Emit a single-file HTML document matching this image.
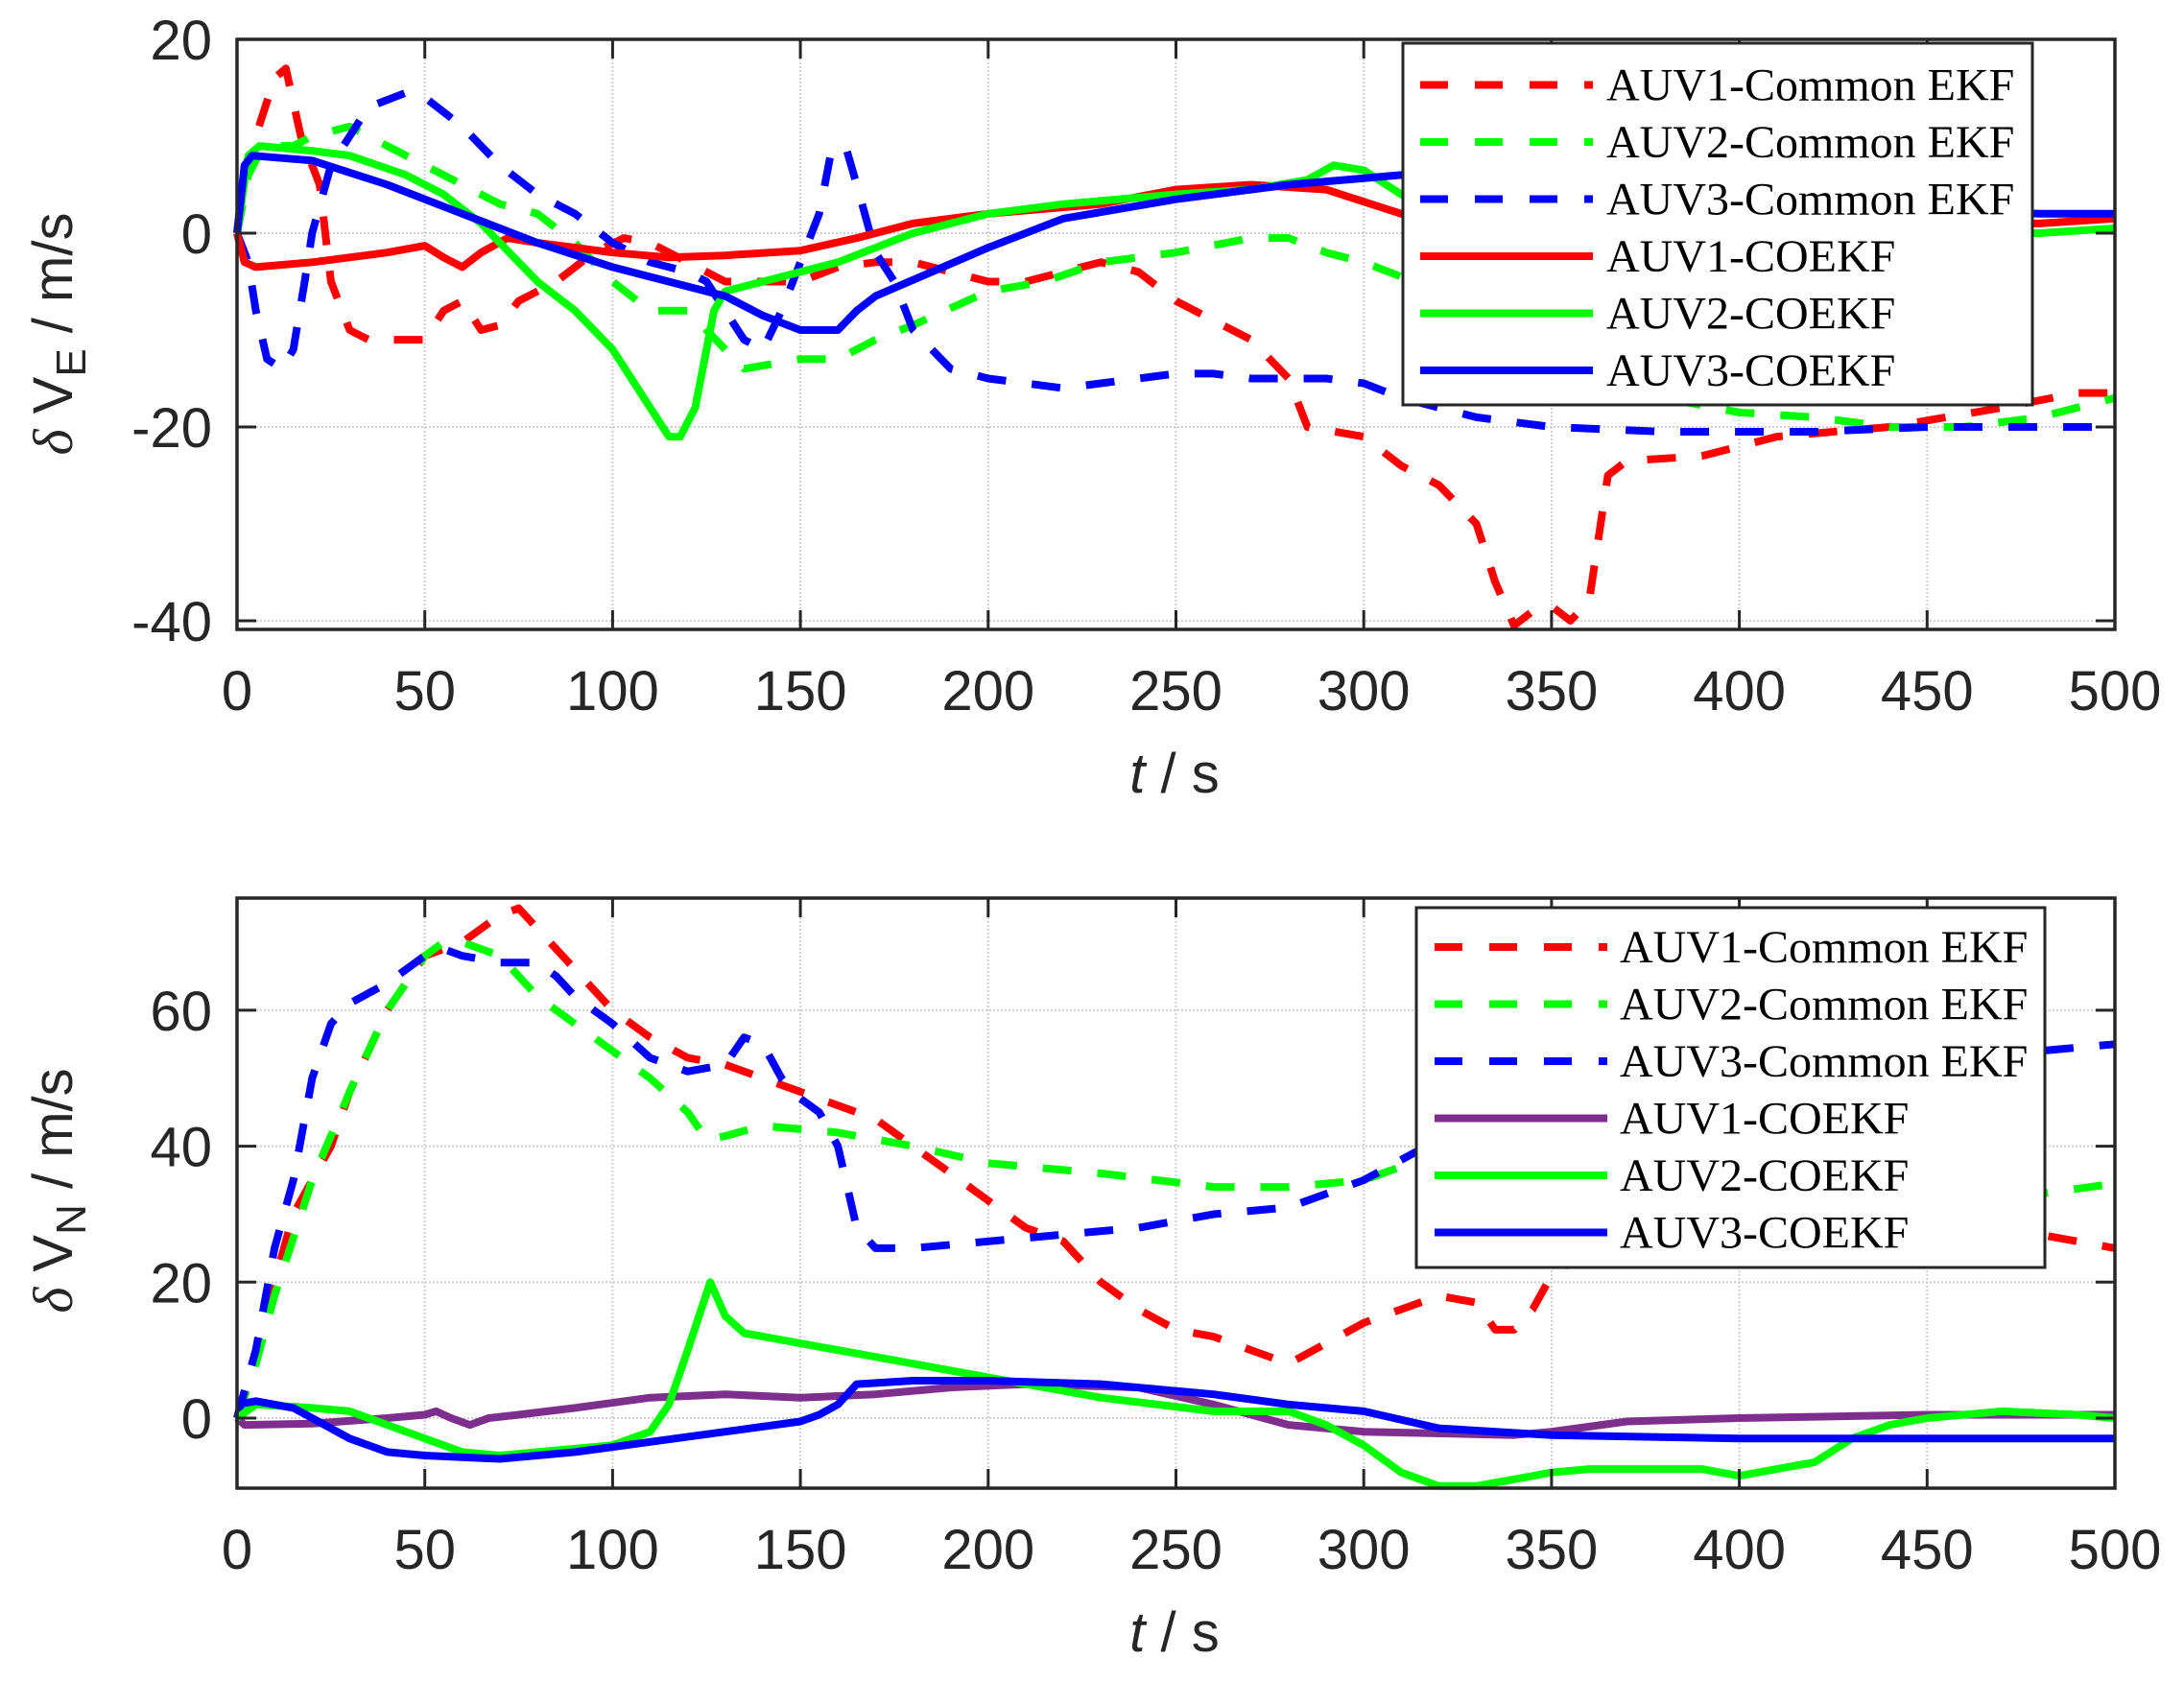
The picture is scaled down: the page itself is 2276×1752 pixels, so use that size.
<!DOCTYPE html>
<html><head><meta charset="utf-8"><style>
html,body{margin:0;padding:0;background:#fff;width:2276px;height:1752px;overflow:hidden}
svg{display:block}
</style></head><body>
<svg id="s" width="2276" height="1752" xmlns="http://www.w3.org/2000/svg">
<rect width="2276" height="1752" fill="#fff"/>
<g id="g"></g>
</svg>
<script>
const g=document.getElementById('g');
const NS='http://www.w3.org/2000/svg';
function el(t,a,txt){const e=document.createElementNS(NS,t);for(const k in a)e.setAttribute(k,a[k]);if(txt!==undefined)e.textContent=txt;g.appendChild(e);return e;}
const L=247,R=2204;
const X=t=>L+t*(R-L)/500;
function panel(p){
  const Y=v=>p.y0-v*p.k;
  for(let t=0;t<=500;t+=50){el('line',{x1:X(t),x2:X(t),y1:p.top,y2:p.bot,stroke:'#d0d0d0','stroke-width':2,'stroke-dasharray':'2 2'});}
  p.yt.forEach(v=>el('line',{x1:L,x2:R,y1:Y(v),y2:Y(v),stroke:'#d0d0d0','stroke-width':2,'stroke-dasharray':'2 2'}));
  p.series.forEach(s=>{
    const d=s.d.map((q,i)=>(i?'L':'M')+X(q[0]).toFixed(1)+' '+Y(q[1]).toFixed(1)).join(' ');
    const a={d:d,fill:'none',stroke:s.c,'stroke-width':8,'stroke-linejoin':'round'};
    if(s.dash)a['stroke-dasharray']='30 27';
    el('path',a);
  });
  el('rect',{x:L,y:p.top,width:R-L,height:p.bot-p.top,fill:'none',stroke:'#262626','stroke-width':3.5});
  for(let t=0;t<=500;t+=50){
    el('line',{x1:X(t),x2:X(t),y1:p.bot,y2:p.bot-20,stroke:'#262626','stroke-width':3});
    el('line',{x1:X(t),x2:X(t),y1:p.top,y2:p.top+20,stroke:'#262626','stroke-width':3});
    el('text',{x:X(t),y:p.bot+84,'font-family':'Liberation Sans, sans-serif','font-size':58,fill:'#262626','text-anchor':'middle'},String(t));
  }
  p.yt.forEach(v=>{
    el('line',{x1:L,x2:L+20,y1:Y(v),y2:Y(v),stroke:'#262626','stroke-width':3});
    el('line',{x1:R,x2:R-20,y1:Y(v),y2:Y(v),stroke:'#262626','stroke-width':3});
    el('text',{x:L-26,y:Y(v)+21,'font-family':'Liberation Sans, sans-serif','font-size':58,fill:'#262626','text-anchor':'end'},String(v));
  });
  const xl=el('text',{x:1224,y:p.bot+170,'font-family':'Liberation Sans, sans-serif','font-size':58,fill:'#262626','text-anchor':'middle'});
  xl.innerHTML='<tspan font-style="italic">t</tspan> / s';
  const yl=el('text',{x:0,y:0,transform:`translate(${p.ylx},${p.yly}) rotate(-90)`,'font-family':'Liberation Sans, sans-serif','font-size':58,fill:'#262626','text-anchor':'middle'});
  yl.innerHTML=`<tspan font-family="Liberation Serif, serif" font-style="italic">δ</tspan> V<tspan font-size="44" dy="14">${p.sub}</tspan><tspan dy="-14"> / m/s</tspan>`;
  const lg=p.leg;
  el('rect',{x:lg.x,y:lg.y,width:lg.w,height:lg.h,fill:'#fff',stroke:'#262626','stroke-width':3});
  p.series.forEach((s,i)=>{
    const yy=lg.r0+i*59.5;
    const a={x1:lg.sx,x2:lg.sx+180,y1:yy,y2:yy,stroke:s.c,'stroke-width':8};
    if(s.dash)a['stroke-dasharray']='29 28';
    el('line',a);
    el('text',{x:lg.tx,y:yy+16,'font-family':'Liberation Serif, serif','font-size':48,fill:'#000'},s.n);
  });
}
const R_='#ff0000',G_='#00ff00',B_='#0000ff',P_='#7e2f8e';
panel({top:41,bot:656,y0:243,k:10.1,yt:[-40,-20,0,20],sub:'E',ylx:75,yly:348,
 leg:{x:1462,y:45,w:656,h:377,r0:88.5,sx:1480,tx:1674},
 series:[
 {n:'AUV1-Common EKF',c:R_,dash:1,d:[[0,0],[5,10],[10,16],[13,17],[17,10],[22,5],[25,-5],[30,-10],[35,-11],[50,-11],[55,-8],[60,-7],[65,-10],[70,-9.5],[75,-7],[85,-5],[95,-2],[103,-0.5],[110,-1],[120,-3],[130,-5],[140,-5],[150,-5],[160,-3.5],[170,-3],[180,-3],[190,-4],[200,-5],[210,-5],[220,-4],[230,-3],[240,-4],[250,-7],[260,-9],[270,-11],[280,-15],[285,-20],[300,-21],[310,-24],[320,-26],[330,-30],[335,-36],[340,-40.5],[345,-39],[350,-38.5],[355,-40],[360,-38],[365,-25],[370,-23.5],[390,-23],[410,-21],[440,-20],[470,-18],[490,-16.5],[500,-16.5]]},
 {n:'AUV2-Common EKF',c:G_,dash:1,d:[[0,0],[3,6],[7,9],[15,9],[20,10],[30,11],[40,9],[60,5],[70,3],[80,2],[90,-1],[100,-5],[110,-8],[120,-8],[130,-12],[135,-14],[150,-13],[160,-13],[170,-11],[180,-9.5],[200,-6],[215,-5],[230,-3],[250,-2],[270,-0.5],[280,-0.5],[290,-2],[300,-3],[320,-6],[340,-10],[360,-14],[380,-17],[400,-18.5],[420,-19],[440,-20],[460,-20],[480,-19],[500,-17]]},
 {n:'AUV3-Common EKF',c:B_,dash:1,d:[[0,0],[3,-3],[5,-8],[8,-13],[12,-14],[15,-12],[18,-5],[20,0],[25,7],[30,10],[35,13],[45,14.5],[50,14],[60,11],[70,7],[80,4],[90,2],[100,-1],[110,-3],[120,-4],[125,-5],[130,-8],[135,-11],[140,-12],[145,-8],[150,-3],[155,2],[158,8],[162,9],[165,5],[170,-2],[175,-5],[180,-10],[190,-14],[200,-15],[210,-15.5],[220,-16],[230,-15.5],[240,-15],[250,-14.5],[260,-14.5],[270,-15],[280,-15],[290,-15],[300,-15.5],[310,-17],[320,-18],[330,-19],[350,-20],[380,-20.5],[420,-20.5],[450,-20],[500,-20]]},
 {n:'AUV1-COEKF',c:R_,d:[[0,0],[2,-3],[5,-3.5],[20,-3],[40,-2],[50,-1.3],[55,-2.5],[60,-3.5],[65,-2],[72,-0.5],[80,-1],[90,-1.5],[100,-2],[115,-2.5],[130,-2.3],[150,-1.8],[165,-0.5],[180,1],[200,2],[230,3],[250,4.5],[270,5],[290,4.5],[310,2],[330,0.5],[350,0],[400,0.5],[450,1],[480,1],[500,1.5]]},
 {n:'AUV2-COEKF',c:G_,d:[[0,0],[3,8],[6,9],[20,8.5],[30,8],[45,6],[55,4],[65,1],[70,-1],[80,-5],[90,-8],[100,-12],[110,-18],[115,-21],[118,-21],[122,-18],[127,-8],[130,-6],[140,-5],[160,-3],[180,0],[200,2],[220,3],[250,4],[270,4.5],[285,5.5],[292,7],[300,6.5],[310,4],[320,2],[360,1],[420,0],[480,0],[500,0.5]]},
 {n:'AUV3-COEKF',c:B_,d:[[0,0],[2,7],[4,8],[20,7.5],[40,5],[60,2],[80,-1],[100,-3.5],[120,-5.5],[130,-6.5],[140,-8.5],[150,-10],[160,-10],[165,-8],[170,-6.5],[200,-1.5],[220,1.5],[250,3.5],[280,5],[310,6],[350,5],[400,3.5],[450,2.5],[480,2],[500,2]]}
 ]});
panel({top:936,bot:1551,y0:1478,k:7.085,yt:[0,20,40,60],sub:'N',ylx:75,yly:1241,
 leg:{x:1476,y:946,w:655,h:375,r0:987,sx:1495,tx:1688},
 series:[
 {n:'AUV1-Common EKF',c:R_,dash:1,d:[[0,0],[5,10],[10,20],[15,30],[20,35],[25,40],[30,48],[40,60],[50,68],[60,70],[70,74],[75,75],[80,72],[90,66],[100,60],[110,56],[120,53],[130,52],[140,50],[150,48],[160,46],[170,44],[180,40],[190,36],[200,32],[210,28],[220,26],[230,20],[240,16],[250,13],[260,12],[270,10],[280,8],[290,11],[300,14],[310,16],[320,18],[330,17],[335,13],[340,13],[345,16],[350,21],[360,25],[400,28],[460,28],[480,27],[500,25]]},
 {n:'AUV2-Common EKF',c:G_,dash:1,d:[[0,0],[5,8],[10,18],[20,35],[30,48],[40,60],[50,68],[55,70],[60,70],[70,68],[80,62],[90,58],[100,54],[110,50],[120,45],[125,41],[130,41.5],[140,43],[160,42],[180,40],[200,37.5],[230,36],[260,34],[280,34],[300,35],[310,37],[320,38],[360,36],[420,32],[460,31],[480,33],[500,34.5]]},
 {n:'AUV3-Common EKF',c:B_,dash:1,d:[[0,0],[5,10],[10,25],[15,35],[20,50],[25,58],[30,61],[40,64],[50,68],[55,69],[60,68],[70,67],[80,67],[85,65],[90,62],[100,58],[110,53],[120,51],[130,52],[135,56],[140,55],[145,50],[150,47],[155,45],[160,40],[165,28],[170,25],[180,25],[200,26],[220,27],[240,28],[260,30],[280,31],[300,35],[310,38],[320,41],[360,46],[420,50],[460,52],[480,54],[500,55]]},
 {n:'AUV1-COEKF',c:P_,d:[[0,0],[2,-1],[20,-0.8],[40,0],[50,0.5],[53,1],[57,0],[62,-1],[67,0],[75,0.5],[90,1.5],[110,3],[130,3.5],[150,3],[170,3.5],[190,4.5],[210,5],[240,4.5],[260,2],[280,-1],[300,-2],[340,-2.5],[350,-2],[370,-0.5],[400,0],[450,0.5],[500,0.5]]},
 {n:'AUV2-COEKF',c:G_,d:[[0,0],[5,2],[20,1.5],[30,1],[40,-1],[50,-3],[60,-5],[70,-5.5],[80,-5],[100,-4],[110,-2],[115,2],[120,10],[126,20],[130,15],[135,12.5],[150,11],[170,9],[200,6],[230,3],[260,1],[280,1],[290,-1],[300,-4],[310,-8],[320,-10],[330,-10],[340,-9],[350,-8],[360,-7.5],[390,-7.5],[400,-8.5],[410,-7.5],[420,-6.5],[430,-3],[440,-1],[450,0],[470,1],[490,0.5],[500,0]]},
 {n:'AUV3-COEKF',c:B_,d:[[0,2],[5,2.5],[15,1.5],[20,0],[30,-3],[40,-5],[50,-5.5],[70,-6],[90,-5],[110,-3.5],[130,-2],[150,-0.5],[155,0.5],[160,2],[165,5],[180,5.5],[200,5.5],[230,5],[260,3.5],[280,2],[300,1],[320,-1.5],[350,-2.5],[400,-3],[500,-3]]}
 ]});
</script>
</body></html>
